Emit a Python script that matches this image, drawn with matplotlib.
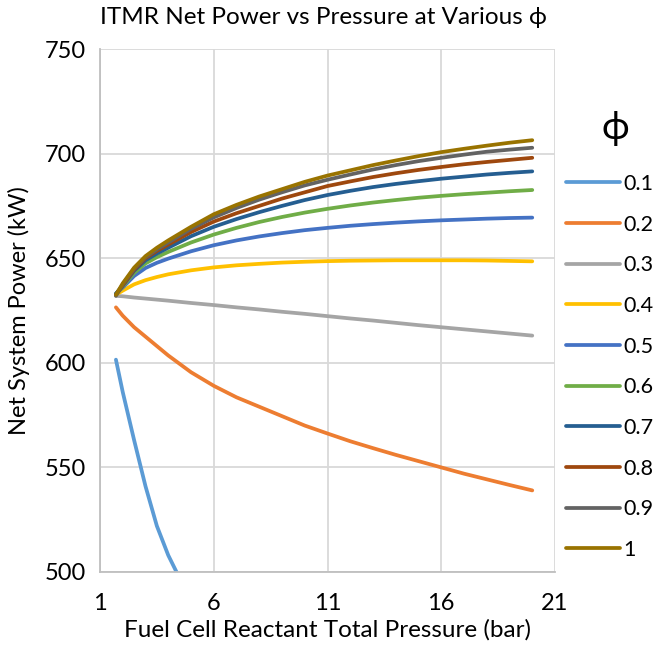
import matplotlib
matplotlib.use("Agg")
import matplotlib.pyplot as plt

plt.rcParams['font.family'] = ['Lato', 'DejaVu Sans']

# Fuel cell reactant total pressure (bar)
pressure = [1.7, 2, 2.5, 3, 3.5, 4, 5, 6, 7, 8, 9, 10, 11, 12, 13, 14, 15, 16, 17, 18, 19, 20]

# Net system power (kW) for each equivalence ratio phi
phi_labels = ['0.1', '0.2', '0.3', '0.4', '0.5', '0.6', '0.7', '0.8', '0.9', '1']
p_01 = [601.5, 586, 563, 541, 522, 508, 486, 468, 453, 440, 429, 419, 410, 402, 395, 389, 383, 378, 373, 369, 365, 361]
p_02 = [626.5, 622.5, 617, 612.5, 608, 603.5, 595.5, 589, 583.5, 579, 574.5, 570, 566.2, 562.5, 559.2, 556, 553, 550, 547, 544.3, 541.6, 539]
p_03 = [632, 631.8, 631.2, 630.7, 630.2, 629.7, 628.6, 627.6, 626.5, 625.5, 624.4, 623.4, 622.3, 621.2, 620.2, 619.1, 618, 617, 616, 615, 614, 613]
p_04 = [632.5, 634.5, 637.5, 639.5, 641, 642.3, 644.2, 645.6, 646.6, 647.3, 647.9, 648.3, 648.6, 648.8, 648.9, 649, 649, 649, 649, 648.9, 648.7, 648.5]
p_05 = [633, 636, 641.5, 645.3, 647.8, 649.8, 653.3, 656.2, 658.5, 660.4, 662, 663.4, 664.5, 665.5, 666.3, 667, 667.6, 668.1, 668.5, 668.9, 669.2, 669.4]
p_06 = [633, 636.5, 643, 647.5, 650.5, 653, 657.5, 661.3, 664.5, 667.3, 669.7, 671.8, 673.6, 675.2, 676.6, 677.8, 678.9, 679.8, 680.6, 681.3, 682, 682.6]
p_07 = [633, 637, 644, 649, 652.2, 655, 660.5, 665, 668.7, 672, 675, 677.8, 680.2, 682.2, 684, 685.5, 686.8, 688, 689, 690, 690.8, 691.5]
p_08 = [632.5, 637, 644.5, 650, 653.5, 656.5, 662.5, 667.5, 671.5, 675, 678.5, 681.5, 684.5, 686.7, 688.8, 690.6, 692.2, 693.6, 694.9, 696, 697, 698]
p_09 = [632, 637.5, 645, 650.5, 654.2, 657.5, 664, 669.5, 674, 678, 681.5, 684.8, 687.5, 690, 692.4, 694.5, 696.4, 698, 699.5, 700.9, 701.9, 702.8]
p_10 = [632.5, 638, 645.5, 651, 655, 658.5, 665, 671, 675.5, 679.5, 683, 686.5, 689.5, 692, 694.5, 696.7, 698.8, 700.7, 702.3, 703.8, 705.2, 706.4]

series = [p_01, p_02, p_03, p_04, p_05, p_06, p_07, p_08, p_09, p_10]
colors = ['#5B9BD5', '#ED7D31', '#A5A5A5', '#FFC000', '#4472C4',
          '#70AD47', '#255E91', '#9E480E', '#636363', '#997300']

x_ticks = [1, 6, 11, 16, 21]
y_ticks = [500, 550, 600, 650, 700, 750]

fig = plt.figure(figsize=(6.56, 6.47), dpi=100)
ax = fig.add_axes([100 / 656, 1 - 572 / 647, 455 / 656, 523 / 647])

for vals, col, lab in zip(series, colors, phi_labels):
    ax.plot(pressure, vals, color=col, lw=2.7, label=lab,
            solid_capstyle='round', solid_joinstyle='round')

ax.set_xlim(1, 21)
ax.set_ylim(500, 750)
ax.set_xticks(x_ticks)
ax.set_yticks(y_ticks)
ax.grid(True, color='#D9D9D9', lw=1.3)
ax.set_axisbelow(True)
for side in ['top', 'right']:
    ax.spines[side].set_visible(False)
for side in ['left', 'bottom']:
    ax.spines[side].set_color('#BFBFBF')
    ax.spines[side].set_linewidth(1.3)
ax.tick_params(length=0, labelsize=17, colors='#000000')
ax.tick_params(axis='x', pad=15)
ax.tick_params(axis='y', pad=10)

ax.set_xlabel('Fuel Cell Reactant Total Pressure (bar)', fontsize=17.5, labelpad=4)
ax.set_ylabel('Net System Power (kW)', fontsize=17, labelpad=11)
fig.text(323 / 656, 1 - 17 / 647, 'ITMR Net Power vs Pressure at Various ϕ',
         ha='center', va='center', fontsize=17.5)

# Legend heading drawn as its own text, entries below it
fig.text(615 / 656, 1 - 128 / 647, 'ϕ', ha='center', va='center', fontsize=27)
leg = ax.legend(loc='upper left', bbox_to_anchor=(566 / 656, 1 - 174 / 647),
                bbox_transform=fig.transFigure, frameon=False, fontsize=15.5,
                handlelength=2.5, handletextpad=0.15, labelspacing=0.96,
                borderaxespad=0, borderpad=0)
for line in leg.get_lines():
    line.set_linewidth(2.7)

fig.savefig('out.png', dpi=100)
